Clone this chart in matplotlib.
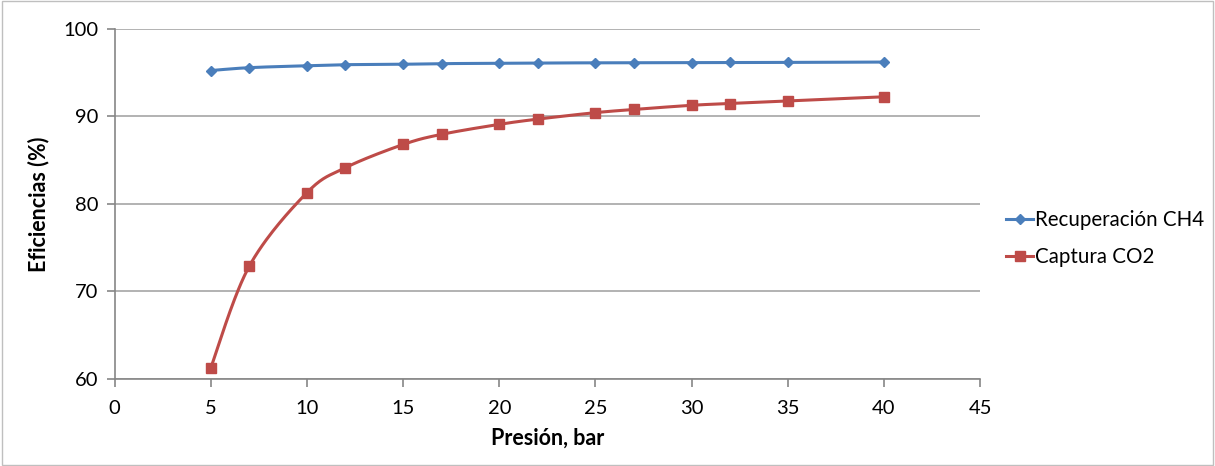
import matplotlib
matplotlib.use("Agg")
import matplotlib.pyplot as plt
import numpy as np
from matplotlib.lines import Line2D
from matplotlib.patches import Rectangle

plt.rcParams['font.family'] = ['Lato', 'DejaVu Sans']

# pressure (bar) and efficiencies (%)
presion = [5, 7, 10, 12, 15, 17, 20, 22, 25, 27, 30, 32, 35, 40]
recuperacion_ch4 = [95.25, 95.58, 95.8, 95.92, 95.97, 96.04, 96.08, 96.12, 96.13, 96.14, 96.16, 96.17, 96.18, 96.22]
captura_co2 = [61.3, 72.9, 81.3, 84.15, 86.8, 87.96, 89.1, 89.7, 90.44, 90.8, 91.28, 91.48, 91.78, 92.25]

azul = '#4a7ebb'
rojo = '#be4b48'


def suave(x, y, n=30):
    # smoothed line through the points (cubic Bezier, Catmull-Rom control points)
    x = np.asarray(x, float)
    y = np.asarray(y, float)
    px = np.concatenate([[x[0]], x, [x[-1]]])
    py = np.concatenate([[y[0]], y, [y[-1]]])
    t = np.linspace(0, 1, n)[:, None]
    xs, ys = [], []
    for i in range(1, len(px) - 2):
        p0 = np.array([px[i], py[i]])
        p3 = np.array([px[i + 1], py[i + 1]])
        p1 = p0 + (np.array([px[i + 1], py[i + 1]]) - np.array([px[i - 1], py[i - 1]])) / 6
        p2 = p3 - (np.array([px[i + 2], py[i + 2]]) - np.array([px[i], py[i]])) / 6
        b = ((1 - t) ** 3) * p0 + 3 * ((1 - t) ** 2) * t * p1 + 3 * (1 - t) * t ** 2 * p2 + t ** 3 * p3
        xs.append(b[:, 0])
        ys.append(b[:, 1])
    return np.concatenate(xs), np.concatenate(ys)


fig = plt.figure(figsize=(12.15, 4.66), dpi=100)
ax = fig.add_axes([0.0944, 0.1867, 0.7122, 0.7511])

for y, c, m, ms in [(recuperacion_ch4, azul, 'D', 5), (captura_co2, rojo, 's', 7)]:
    sx, sy = suave(presion, y)
    ax.plot(sx, sy, color=c, lw=2.2, zorder=3)
    ax.plot(presion, y, ls='none', marker=m, ms=ms, color=c, zorder=4)

ax.set_xlim(0, 45)
ax.set_ylim(60, 100)
ax.set_xticks(range(0, 46, 5))
ax.set_yticks(range(60, 101, 10))
ax.grid(axis='y', color='#a6a6a6', lw=1.2)
ax.set_axisbelow(True)
for s in ['top', 'right']:
    ax.spines[s].set_visible(False)
for s in ['left', 'bottom']:
    ax.spines[s].set_color('#868686')
    ax.spines[s].set_linewidth(1.2)
ax.tick_params(axis='both', colors='#868686', labelcolor='black', labelsize=14.5, length=6, width=1.2)
ax.tick_params(axis='y', pad=6)
ax.tick_params(axis='x', pad=9)

ax.set_xlabel('Presión, bar', fontsize=15.5, fontweight='bold', labelpad=8)
ax.set_ylabel('Eficiencias (%)', fontsize=15.5, fontweight='bold', labelpad=10)

handles = [Line2D([], [], color=azul, lw=2.2, marker='D', ms=5),
           Line2D([], [], color=rojo, lw=2.2, marker='s', ms=7)]
fig.legend(handles, ['Recuperación CH4', 'Captura CO2'], loc='center left',
           bbox_to_anchor=(0.813, 0.488), frameon=False, fontsize=14.8,
           handlelength=1.3, handletextpad=0.1, labelspacing=0.8)

fig.patches.append(Rectangle((0.002, 0.002), 0.996, 0.996, transform=fig.transFigure,
                             fill=False, edgecolor='#bfbfbf', lw=1))

fig.savefig('out.png', dpi=100)
